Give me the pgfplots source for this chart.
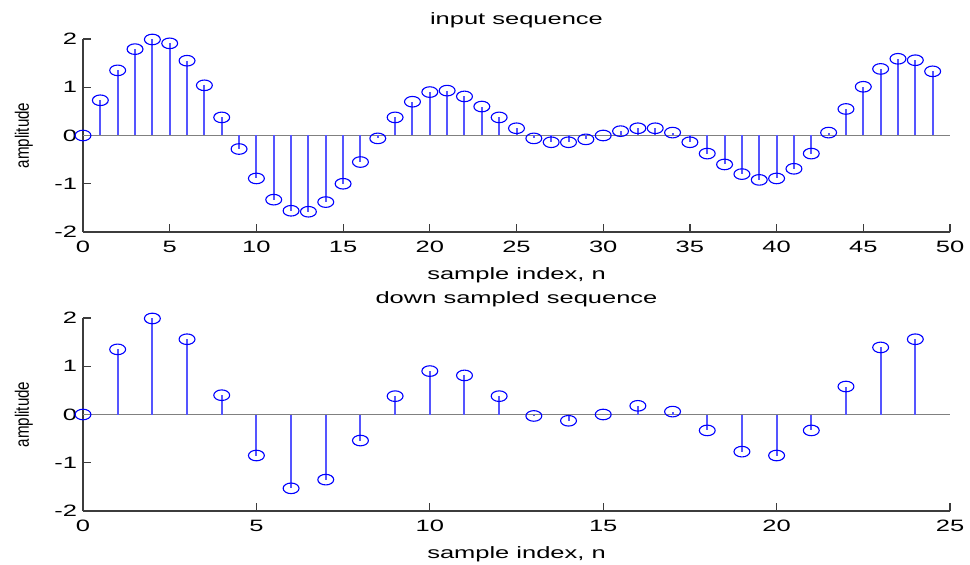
\documentclass[border=0pt]{standalone}
\usepackage{graphicx}
\usepackage{pgfplots}
\pgfplotsset{compat=1.18}
\usepackage{pgfplotstable}
\usepackage{fontspec}
\setmainfont{Liberation Sans}[FakeStretch=1.55]
\newfontfamily\plainfont{Liberation Sans}
\definecolor{stemblue}{RGB}{85,85,255}
\definecolor{axgray}{RGB}{60,60,60}

\pgfplotstableread{
n y
0 0
1 0.73
2 1.35
3 1.79
4 1.99
5 1.91
6 1.55
7 1.04
8 0.375
9 -0.28
10 -0.89
11 -1.33
12 -1.56
13 -1.58
14 -1.38
15 -1.0
16 -0.55
17 -0.06
18 0.375
19 0.70
20 0.90
21 0.93
22 0.81
23 0.60
24 0.375
25 0.15
26 -0.06
27 -0.14
28 -0.14
29 -0.08
30 0.0
31 0.09
32 0.15
33 0.15
34 0.06
35 -0.14
36 -0.375
37 -0.60
38 -0.80
39 -0.92
40 -0.89
41 -0.69
42 -0.375
43 0.06
44 0.55
45 1.01
46 1.38
47 1.59
48 1.56
49 1.33
}\inputseq

\pgfplotstableread{
n y
0 0
1 1.35
2 1.99
3 1.56
4 0.40
5 -0.85
6 -1.53
7 -1.35
8 -0.54
9 0.38
10 0.90
11 0.81
12 0.38
13 -0.03
14 -0.13
15 0.0
16 0.18
17 0.06
18 -0.33
19 -0.77
20 -0.85
21 -0.33
22 0.58
23 1.39
24 1.56
}\downseq

\pgfplotsset{
  stemstyle/.style={
    scale only axis,
    width=867bp, height=193bp,
    axis lines=left,
    axis line style={-, axgray, line width=1.2bp},
    tick align=inside,
    major tick length=8bp,
    tick style={axgray, line width=1.2bp},
    ymin=-2, ymax=2, ytick={-2,-1,0,1,2},
    clip=false,
    font=\fontsize{16.5}{19}\selectfont,
    /pgf/number format/assume math mode=true,
    xticklabel style={yshift=-6bp},
    yticklabel style={xshift=-2.5bp},
    title style={at={(axis description cs:0.5,1.0673)}, anchor=center},
    xlabel style={at={(axis description cs:0.5,-0.2228)}, anchor=center},
    ylabel style={at={(axis description cs:-0.0681,0.5)}, anchor=center, font=\plainfont\fontsize{15.2}{18}\selectfont},
  },
  stems/.style={
    ycomb, stemblue, line width=2bp,
    mark=o, mark size=5.3bp,
    mark options={xscale=1.5, solid, blue, line width=1.1bp},
  },
}

\begin{document}
\begin{tikzpicture}
\useasboundingbox (0,0) rectangle (970bp,565bp);
\begin{axis}[stemstyle,
  at={(83bp,333bp)}, anchor=south west,
  xmin=0, xmax=50, xtick={0,5,...,50},
  title={input sequence},
  xlabel={sample index, n},
  ylabel={\scalebox{1}[1.28]{amplitude}},
]
\addplot[gray, line width=1.2bp, no marks] coordinates {(0,0) (50,0)};
\addplot[stems] table[x=n, y=y] {\inputseq};
\end{axis}
\begin{axis}[stemstyle,
  at={(83bp,54bp)}, anchor=south west,
  xmin=0, xmax=25, xtick={0,5,...,25},
  title={down sampled sequence},
  xlabel={sample index, n},
  ylabel={\scalebox{1}[1.28]{amplitude}},
]
\addplot[gray, line width=1.2bp, no marks] coordinates {(0,0) (25,0)};
\addplot[stems] table[x=n, y=y] {\downseq};
\end{axis}
\end{tikzpicture}
\end{document}
